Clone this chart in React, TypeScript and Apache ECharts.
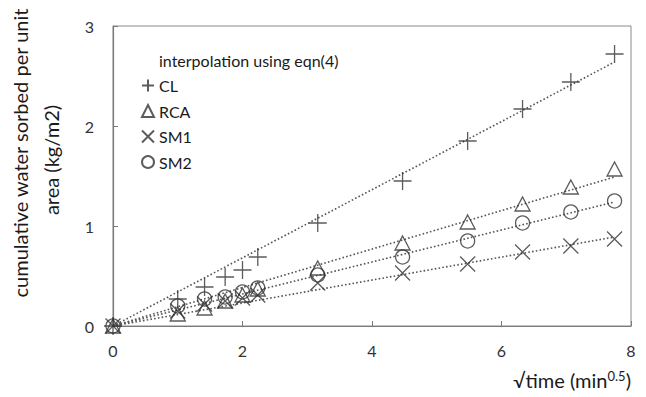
import React, { useEffect, useRef } from "react";
import * as echarts from "echarts";

// √time (min^0.5) for 0,1,2,3,4,5,10,20,30,40,50,60 min
const sqrtTime = [0, 1, 1.414, 1.732, 2, 2.236, 3.162, 4.472, 5.477, 6.325, 7.071, 7.746];

// cumulative water sorbed per unit area (kg/m2)
const clValues = [0, 0.27, 0.39, 0.49, 0.56, 0.69, 1.03, 1.45, 1.85, 2.17, 2.44, 2.72];
const rcaValues = [0, 0.12, 0.18, 0.25, 0.31, 0.37, 0.58, 0.83, 1.04, 1.22, 1.39, 1.57];
const sm1Values = [0, 0.15, 0.22, 0.25, 0.28, 0.31, 0.43, 0.53, 0.62, 0.74, 0.8, 0.87];
const sm2Values = [0, 0.2, 0.27, 0.29, 0.34, 0.38, 0.51, 0.69, 0.85, 1.03, 1.14, 1.25];

// interpolated lines (eqn 4): value at start and at last √time
const fitX = [0, 7.746];
const clFit = [0, 2.64];
const rcaFit = [0, 1.49];
const sm1Fit = [0, 0.89];
const sm2Fit = [0, 1.24];

const xTicks = [0, 2, 4, 6, 8];
const yTicks = [0, 1, 2, 3];

const FIT_NAME = "interpolation using eqn(4)";
const FONT = "Lato, 'Open Sans', sans-serif";
const INK = "#333333";

const PLUS = "path://M0,5L10,5M5,0L5,10";
const CROSS = "path://M0,0L10,10M10,0L0,10";

const pairs = (xs: number[], ys: number[]) => xs.map((x, i) => [x, ys[i]]);

const markerSeries = (name: string, ys: number[], symbol: string, size: number | number[]) => ({
  name,
  type: "scatter",
  data: pairs(sqrtTime, ys),
  symbol,
  symbolSize: size,
  clip: false,
  z: 3,
  itemStyle: { color: "rgba(0,0,0,0)", borderColor: INK, borderWidth: 1.3 },
});

const fitSeries = (ys: number[]) => ({
  name: FIT_NAME,
  type: "line",
  data: pairs(fitX, ys),
  showSymbol: false,
  symbol: "none",
  clip: false,
  z: 2,
  lineStyle: { color: "#555555", width: 1.6, type: [1.6, 2.2] },
});

export default function App() {
  const ref = useRef<HTMLDivElement>(null);

  useEffect(() => {
    if (!ref.current) return;
    const chart = echarts.init(ref.current, null, { renderer: "svg" });
    chart.setOption({
      animation: false,
      backgroundColor: "#ffffff",
      textStyle: { fontFamily: FONT },
      grid: {
        left: 113,
        right: 15,
        top: 26,
        bottom: 71,
        show: true,
        borderColor: "#8a8a8a",
        borderWidth: 1,
      },
      xAxis: {
        type: "value",
        min: xTicks[0],
        max: xTicks[xTicks.length - 1],
        interval: 2,
        axisLine: { show: true, onZero: false, lineStyle: { color: "#7a7a7a", width: 1.2 } },
        axisTick: { show: true, inside: true, length: 5, lineStyle: { color: "#7a7a7a" } },
        splitLine: { show: false },
        axisLabel: { color: INK, fontSize: 16, fontFamily: FONT, margin: 16 },
      },
      yAxis: {
        type: "value",
        min: yTicks[0],
        max: yTicks[yTicks.length - 1],
        interval: 1,
        axisLine: { show: true, onZero: false, lineStyle: { color: "#7a7a7a", width: 1.2 } },
        axisTick: { show: true, inside: true, length: 5, lineStyle: { color: "#7a7a7a" } },
        splitLine: { show: false },
        axisLabel: { color: INK, fontSize: 16, fontFamily: FONT, margin: 19 },
      },
      legend: {
        orient: "vertical",
        left: 141,
        top: 50,
        padding: 0,
        itemWidth: 12,
        itemHeight: 12,
        itemGap: 5.5,
        textStyle: { color: "#1a1a1a", fontSize: 16, fontFamily: FONT, lineHeight: 20 },
        data: [
          { name: FIT_NAME, icon: "none" },
          { name: "CL", icon: PLUS },
          { name: "RCA", icon: "triangle" },
          { name: "SM1", icon: CROSS },
          { name: "SM2", icon: "circle" },
        ],
      },
      graphic: [
        {
          type: "text",
          x: 20,
          y: 153,
          rotation: Math.PI / 2,
          style: {
            text: "cumulative water sorbed per unit",
            fontSize: 20,
            fontFamily: FONT,
            fill: "#1a1a1a",
            textAlign: "center",
            textVerticalAlign: "middle",
          },
        },
        {
          type: "text",
          x: 51,
          y: 160,
          rotation: Math.PI / 2,
          style: {
            text: "area (kg/m2)",
            fontSize: 20,
            fontFamily: FONT,
            fill: "#1a1a1a",
            textAlign: "center",
            textVerticalAlign: "middle",
          },
        },
        {
          type: "text",
          x: 631,
          y: 380,
          style: {
            text: "{a|√time (min}{s|0.5}{a|)}",
            textAlign: "right",
            textVerticalAlign: "middle",
            rich: {
              a: { fontSize: 20, fontFamily: FONT, fill: "#1a1a1a", color: "#1a1a1a" },
              s: {
                fontSize: 13,
                fontFamily: FONT,
                fill: "#1a1a1a",
                color: "#1a1a1a",
                verticalAlign: "top",
                padding: [0, 0, 8, 0],
              },
            },
          },
        },
      ],
      series: [
        fitSeries(clFit),
        fitSeries(rcaFit),
        fitSeries(sm1Fit),
        fitSeries(sm2Fit),
        markerSeries("CL", clValues, PLUS, 18),
        markerSeries("RCA", rcaValues, "triangle", [15, 14]),
        markerSeries("SM1", sm1Values, CROSS, 15),
        markerSeries("SM2", sm2Values, "circle", 14),
      ],
    });
    return () => chart.dispose();
  }, []);

  return (
    <div
      ref={ref}
      style={{ position: "fixed", left: 0, top: 0, width: 646, height: 397 }}
    />
  );
}
